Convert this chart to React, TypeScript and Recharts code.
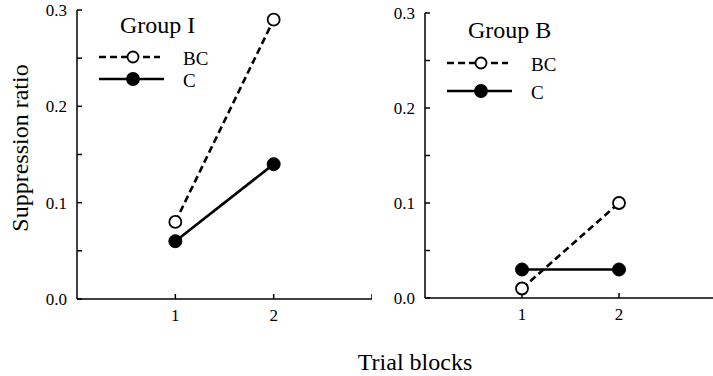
import { Legend, Line, LineChart, XAxis, YAxis } from 'recharts';

const blocks = [1, 2];
const groupIBC = [0.08, 0.29];
const groupIC = [0.06, 0.14];
const groupBBC = [0.01, 0.1];
const groupBC = [0.03, 0.03];
const yTicks = [0, 0.05, 0.1, 0.15, 0.2, 0.25, 0.3];
const xTicks = [1, 2, 3];
const xLabels = ['1', '2', ''];

const FONT = 'Liberation Serif, serif';
const INK = '#000';

const tickStyle = { fontSize: 17, fill: INK, fontFamily: FONT, style: { fontFamily: FONT } };

function buildRows(bc: number[], c: number[]) {
    return blocks.map((b, i) => ({ block: b, BC: bc[i], C: c[i] }));
}

const yFormat = (v: number) => (Math.round(v * 100) % 10 === 0 ? v.toFixed(1) : '');
const xFormat = (v: number) => xLabels[xTicks.indexOf(v)] ?? '';

interface LegendRows {
    title: string;
    titleY: number;
    bcY: number;
    cY: number;
}

function GroupLegend({ title, titleY, bcY, cY }: LegendRows) {
    const rows = [
        { name: 'BC', y: bcY, dash: '7 4', fill: '#fff', r: 5.5, lineEnd: 160 },
        { name: 'C', y: cY, dash: undefined, fill: INK, r: 6, lineEnd: 164 },
    ];
    return (
        <svg width={260} height={110} style={{ display: 'block', overflow: 'visible', fontFamily: FONT }}>
            <text x={120} y={titleY} fontSize={24} style={{ fontFamily: FONT }} fill={INK}>
                {title}
            </text>
            {rows.map((row) => (
                <g key={row.name}>
                    <line x1={99} x2={row.lineEnd} y1={row.y} y2={row.y} stroke={INK} strokeWidth={2.6} strokeDasharray={row.dash} />
                    <circle cx={133} cy={row.y} r={row.r} fill={row.fill} stroke={INK} strokeWidth={1.8} />
                    <text x={183} y={row.y + 8} fontSize={19} style={{ fontFamily: FONT }} fill={INK}>
                        {row.name}
                    </text>
                </g>
            ))}
        </svg>
    );
}

interface PanelProps {
    bc: number[];
    c: number[];
    width: number;
    top: number;
    bottom: number;
    legend: LegendRows;
}

function Panel({ bc, c, width, top, bottom, legend }: PanelProps) {
    return (
        <LineChart
            width={width}
            height={376}
            data={buildRows(bc, c)}
            margin={{ top, right: 0, left: 0, bottom }}
            style={{ fontFamily: FONT }}
        >
            <XAxis
                type="number"
                dataKey="block"
                domain={[0, 3]}
                ticks={xTicks}
                tickFormatter={xFormat}
                tick={tickStyle}
                tickSize={-5}
                tickMargin={15}
                height={30}
                axisLine={{ stroke: INK, strokeWidth: 1.5 }}
                tickLine={{ stroke: INK, strokeWidth: 1.5 }}
            />
            <YAxis
                type="number"
                domain={[0, 0.3]}
                ticks={yTicks}
                tickFormatter={yFormat}
                tick={tickStyle}
                tickSize={-5}
                tickMargin={15}
                width={77}
                axisLine={{ stroke: INK, strokeWidth: 1.5 }}
                tickLine={{ stroke: INK, strokeWidth: 1.5 }}
            />
            <Legend
                layout="horizontal"
                verticalAlign="middle"
                align="center"
                wrapperStyle={{ left: 0, top: 0, width: 260, height: 110 }}
                content={() => <GroupLegend {...legend} />}
            />
            <Line
                type="linear"
                dataKey="BC"
                stroke={INK}
                strokeWidth={2.6}
                strokeDasharray="7 4"
                dot={{ r: 6, fill: '#fff', stroke: INK, strokeWidth: 1.8, strokeDasharray: '' }}
                isAnimationActive={false}
            />
            <Line
                type="linear"
                dataKey="C"
                stroke={INK}
                strokeWidth={2.6}
                dot={{ r: 6.5, fill: INK, stroke: INK, strokeWidth: 1 }}
                isAnimationActive={false}
            />
        </LineChart>
    );
}

export default function App() {
    return (
        <div style={{ position: 'absolute', left: 0, top: 0, width: 713, height: 376, overflow: 'hidden', background: '#fff', fontFamily: FONT }}>
            <div style={{ position: 'absolute', left: 0, top: 0 }}>
                <Panel bc={groupIBC} c={groupIC} width={372} top={10} bottom={47} legend={{ title: 'Group I', titleY: 33, bcY: 57, cY: 79 }} />
            </div>
            <div style={{ position: 'absolute', left: 348, top: 0 }}>
                <Panel bc={groupBBC} c={groupBC} width={368} top={13} bottom={48} legend={{ title: 'Group B', titleY: 38, bcY: 63, cY: 91 }} />
            </div>
            <div
                style={{
                    position: 'absolute',
                    left: 20,
                    top: 148,
                    transform: 'translate(-50%, -50%) rotate(-90deg)',
                    whiteSpace: 'nowrap',
                    fontSize: 24,
                    lineHeight: 1,
                    color: INK,
                }}
            >
                Suppression ratio
            </div>
            <div
                style={{
                    position: 'absolute',
                    left: 415,
                    top: 362,
                    transform: 'translate(-50%, -50%)',
                    whiteSpace: 'nowrap',
                    fontSize: 24,
                    lineHeight: 1,
                    color: INK,
                }}
            >
                Trial blocks
            </div>
        </div>
    );
}
